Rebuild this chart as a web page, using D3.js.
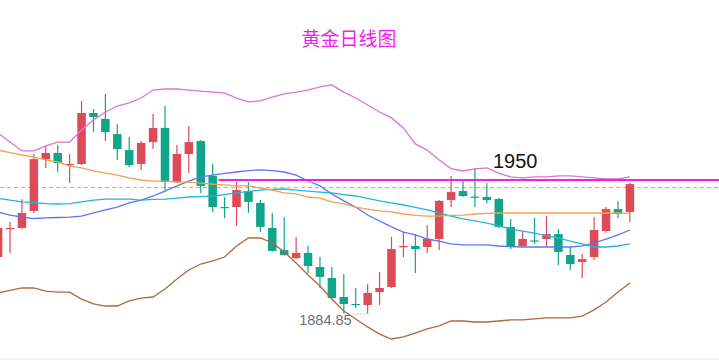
<!DOCTYPE html>
<html><head><meta charset="utf-8">
<script src="https://cdn.jsdelivr.net/npm/d3@7/dist/d3.min.js"></script>
<style>html,body{margin:0;padding:0;background:#fff;overflow:hidden}</style>
</head><body><svg id="c" width="719" height="360"></svg>
<script>
const titleText = "黄金日线图";
// candles: [open, close, low, high]
const candles = [
 [1912.4,1926.6,1911.9,1927.6],[1926.4,1926.6,1914.4,1929.5],[1926.6,1933.9,1926.1,1940.7],[1934.9,1960.2,1933.9,1962.7],
 [1960.2,1963.2,1955.9,1966.6],[1963.2,1958.3,1953.9,1967.1],[1957.3,1957.8,1948.5,1962.7],[1957.8,1982.7,1957.3,1988.6],
 [1982.7,1980.7,1973.4,1984.6],[1979.8,1973.4,1969.0,1992.0],[1972.4,1965.1,1959.8,1977.3],[1964.6,1957.3,1956.3,1971.0],
 [1957.8,1968.1,1954.9,1969.0],[1968.5,1975.4,1965.1,1982.2],[1975.4,1949.0,1945.1,1986.1],[1949.0,1962.7,1948.5,1967.1],
 [1962.7,1968.5,1953.4,1976.4],[1969.0,1947.1,1943.7,1969.5],[1952.0,1936.8,1934.4,1957.8],[1936.8,1936.3,1931.5,1941.7],
 [1936.8,1945.1,1927.6,1949.0],[1944.6,1939.3,1933.9,1949.0],[1938.8,1927.1,1924.6,1940.2],[1926.6,1915.4,1915.0,1933.9],
 [1915.8,1913.4,1913.0,1931.9],[1911.9,1914.4,1911.4,1922.2],[1914.4,1908.0,1904.6,1917.8],[1907.5,1902.7,1897.3,1912.4],
 [1902.2,1892.4,1891.9,1907.5],[1892.9,1889.5,1885.0,1904.1],[1889.5,1889.3,1887.5,1897.3],[1889.0,1894.9,1884.85,1899.2],
 [1895.3,1897.3,1889.0,1905.1],[1897.8,1916.3,1897.3,1922.2],[1917.6,1917.8,1912.4,1924.6],[1917.8,1916.3,1904.6,1923.6],
 [1917.3,1921.2,1914.4,1928.0],[1921.2,1939.8,1915.8,1940.2],[1940.2,1944.1,1936.8,1952.0],[1944.6,1942.2,1941.7,1949.5],
 [1941.9,1941.7,1936.8,1955.9],[1941.7,1940.2,1938.8,1948.5],[1940.7,1927.1,1926.6,1941.2],[1927.1,1917.3,1916.3,1931.0],
 [1917.8,1921.2,1917.3,1925.1],[1920.5,1920.2,1918.8,1931.5],[1921.2,1923.6,1917.3,1932.4],[1923.6,1914.9,1908.5,1926.1],
 [1913.4,1909.0,1906.1,1917.3],[1910.0,1911.4,1902.2,1913.9],[1912.4,1925.6,1911.0,1931.9],[1925.1,1935.8,1924.1,1936.8],
 [1935.8,1933.4,1931.5,1939.8],[1934.4,1948.0,1929.5,1948.5]
];
const upperBand = [1972.9,1968.5,1964.2,1964.2,1966.6,1968.5,1968.5,1974.4,1979.3,1983.2,1986.1,1987.6,1990.0,1993.9,1994.4,1994.4,1993.9,1993.4,1992.9,1992.5,1990.0,1988.1,1988.6,1990.5,1992.0,1992.9,1993.9,1995.4,1996.4,1992.9,1990.0,1986.6,1983.2,1980.3,1975.4,1967.6,1964.6,1959.8,1955.6,1954.4,1955.4,1955.9,1953.4,1951.5,1951.0,1951.5,1951.5,1952.0,1952.0,1951.5,1951.0,1950.5,1950.5,1951.5];
const midBand = [1934.4,1932.9,1931.9,1931.2,1931.5,1931.7,1931.9,1932.4,1933.9,1935.4,1936.8,1938.8,1940.2,1942.2,1944.6,1947.1,1949.5,1951.5,1952.4,1953.2,1953.9,1954.6,1954.9,1954.6,1953.9,1952.4,1949.5,1947.1,1943.2,1939.8,1936.8,1932.9,1930.0,1927.1,1924.6,1923.2,1921.2,1920.2,1918.8,1918.3,1918.3,1918.3,1917.8,1917.5,1917.3,1917.3,1917.3,1917.3,1917.3,1917.8,1919.3,1921.2,1923.2,1925.6];
const lowerBand = [1894.9,1896.1,1897.3,1897.3,1895.8,1895.3,1895.3,1891.9,1889.5,1888.5,1888.5,1891.0,1892.4,1892.9,1896.8,1901.7,1906.1,1909.0,1910.5,1912.4,1917.8,1921.7,1921.7,1919.3,1914.9,1909.5,1903.6,1898.3,1891.9,1886.1,1882.2,1878.3,1874.8,1872.4,1873.4,1875.3,1877.3,1878.8,1881.2,1881.2,1880.7,1880.7,1881.2,1881.7,1881.7,1882.2,1882.7,1882.7,1882.7,1883.6,1886.6,1890.5,1895.3,1899.7];
const maCyan = [1941.0,1940.2,1939.3,1939.0,1938.5,1938.3,1938.5,1939.3,1940.2,1940.7,1940.7,1940.7,1940.2,1940.5,1940.7,1941.2,1941.7,1941.9,1942.2,1942.9,1943.7,1944.4,1945.1,1945.4,1945.6,1945.1,1944.6,1944.1,1943.7,1942.9,1942.2,1941.0,1939.8,1938.8,1937.8,1936.6,1935.4,1933.9,1932.4,1931.0,1930.0,1929.0,1927.6,1926.1,1925.1,1924.1,1922.7,1921.7,1920.2,1918.8,1917.3,1917.3,1917.8,1918.8];
const maOrange = [1964.6,1963.4,1962.2,1961.2,1959.8,1958.8,1956.8,1955.9,1954.4,1953.4,1952.4,1951.0,1950.0,1949.5,1949.5,1949.0,1949.0,1948.5,1948.0,1947.6,1947.1,1947.1,1946.1,1945.1,1943.7,1943.2,1941.7,1941.2,1939.3,1938.3,1936.8,1935.8,1934.9,1934.4,1933.4,1932.7,1932.4,1932.4,1932.7,1932.9,1933.4,1933.7,1933.9,1933.9,1933.9,1933.9,1933.9,1933.9,1933.9,1933.9,1933.9,1933.9,1933.9,1933.7];
const resistanceValue = 1950;
const resistanceLabel = "1950";
const resistanceStartIndex = 18.5;
const refPrice = 1946.3;
const minLabel = "1884.85";
const minIndex = 31;
const axisTickIndices = [2, 22, 42];

const svg = d3.select("#c");
const W = 719, H = 360;
const x = d3.scaleLinear().domain([0, candles.length - 1]).range([-1.9, 629.9]);
const y = d3.scaleLinear().domain([1884.85, 1950]).range([313.5, 180]);
const bodyW = 8.5;
const upC = "#dd4b59", downC = "#10a48a";

// x axis
const xAxisScale = d3.scaleLinear().domain([x.invert(0), x.invert(W)]).range([0, W]);
const ax = svg.append("g").attr("transform", "translate(0,358.5)")
  .call(d3.axisBottom(xAxisScale).tickValues(axisTickIndices).tickFormat("").tickSizeOuter(0).tickSize(4));
ax.selectAll("path,line").attr("stroke", "#e6e6e6");

// reference dashed line
svg.append("line").attr("x1", 0).attr("x2", W).attr("y1", y(refPrice)).attr("y2", y(refPrice))
  .attr("stroke", "#e8999f").attr("stroke-width", 1).attr("stroke-dasharray", "4,3");

// candles
const g = svg.append("g");
candles.forEach((d, i) => {
  const [o, c, l, h] = d;
  const col = c >= o ? upC : downC;
  const cx = x(i);
  g.append("line").attr("x1", cx).attr("x2", cx).attr("y1", y(h)).attr("y2", y(l))
    .attr("stroke", col).attr("stroke-width", 1.2);
  const top = y(Math.max(o, c)), bot = y(Math.min(o, c));
  g.append("rect").attr("x", cx - bodyW / 2).attr("y", top)
    .attr("width", bodyW).attr("height", Math.max(1.2, bot - top)).attr("fill", col);
});

// lines
const line = d3.line().x((d, i) => x(i)).y(d => y(d));
const series = [
  [upperBand, "#dc74d2"], [lowerBand, "#b0683e"], [midBand, "#5b77ef"],
  [maCyan, "#22b6d9"], [maOrange, "#f6a04c"]
];
series.forEach(([arr, col]) => {
  svg.append("path").datum(arr).attr("d", line).attr("fill", "none")
    .attr("stroke", col).attr("stroke-width", 1.3);
});

// resistance
svg.append("line").attr("x1", x(resistanceStartIndex)).attr("x2", W)
  .attr("y1", y(resistanceValue)).attr("y2", y(resistanceValue))
  .attr("stroke", "#f01ff0").attr("stroke-width", 2.2);
svg.append("text").attr("x", 493).attr("y", 168).text(resistanceLabel)
  .attr("font-family", "'Liberation Sans', Arial, sans-serif").attr("font-size", 20).attr("fill", "#111");

// min label
const mx = x(minIndex), my = y(candles[minIndex][2]);
svg.append("line").attr("x1", mx - 14).attr("x2", mx - 1).attr("y1", my + 0.5).attr("y2", my + 0.5)
  .attr("stroke", "#8a8f9c").attr("stroke-width", 1).attr("stroke-dasharray", "1,2");
svg.append("text").attr("x", mx - 16).attr("y", my + 11).attr("text-anchor", "end").text(minLabel)
  .attr("font-family", "'Liberation Sans', Arial, sans-serif").attr("font-size", 14.5).attr("fill", "#6e7079");

// title
svg.append("text").attr("x", 349).attr("y", 46).attr("text-anchor", "middle").text(titleText)
  .attr("font-family", "'Noto Sans CJK SC', sans-serif").attr("font-size", 19).attr("fill", "#f01ff0");
</script></body></html>
